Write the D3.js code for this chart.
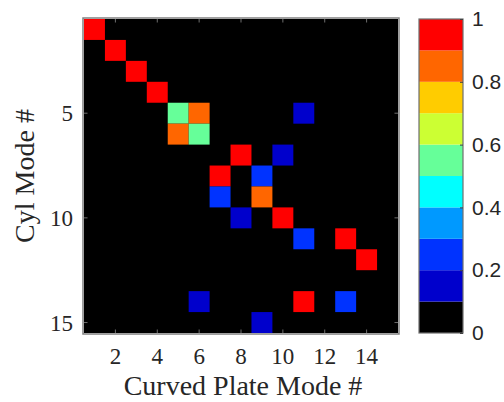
<!DOCTYPE html>
<html>
<head>
<meta charset="utf-8">
<script src="https://cdn.jsdelivr.net/npm/d3@7"></script>
<style>
  body { margin: 0; background: #fff; }
  svg text { fill: #262626; }
</style>
</head>
<body>
<div id="chart"></div>
<script>
// matrix size and the non-zero cells: [plate mode, cyl mode, value]
const nCols = 15, nRows = 15;
const cells = [
  [1, 1, 0.95], [2, 2, 0.95], [3, 3, 0.95], [4, 4, 0.95],
  [5, 5, 0.55], [6, 5, 0.85], [11, 5, 0.15],
  [5, 6, 0.85], [6, 6, 0.55],
  [8, 7, 0.95], [10, 7, 0.15],
  [7, 8, 0.95], [9, 8, 0.25],
  [7, 9, 0.25], [9, 9, 0.85],
  [8, 10, 0.15], [10, 10, 0.95],
  [11, 11, 0.25], [13, 11, 0.95],
  [14, 12, 0.95],
  [6, 14, 0.15], [11, 14, 0.95], [13, 14, 0.25],
  [9, 15, 0.15]
];
const xTicks = [2, 4, 6, 8, 10, 12, 14];
const yTicks = [5, 10, 15];
const cbTicks = [0, 0.2, 0.4, 0.6, 0.8, 1];
const levels = ['#000000', '#0000cc', '#0033ff', '#0099ff', '#00ffff',
                '#66ff99', '#ccff33', '#ffcc00', '#ff6600', '#ff0000'];

let width = 504, height = 402;
let pLeft = 84, pRight = 398, pTop = 19, pBottom = 333;

var svg = d3.select("#chart").append("svg")
  .attr("width", width).attr("height", height);

let x = d3.scaleLinear().domain([0.5, nCols + 0.5]).range([pLeft, pRight]);
let y = d3.scaleLinear().domain([0.5, nRows + 0.5]).range([pTop, pBottom]);
let color = d3.scaleQuantize().domain([0, 1]).range(levels);

// black background = value 0
svg.append("rect")
  .attr("x", pLeft).attr("y", pTop)
  .attr("width", pRight - pLeft).attr("height", pBottom - pTop)
  .attr("fill", color(0));

svg.selectAll("rect.cell")
  .data(cells)
  .enter().append("rect")
  .attr("class", "cell")
  .attr("x", d => x(d[0] - 0.5))
  .attr("y", d => y(d[1] - 0.5))
  .attr("width", x(1.5) - x(0.5))
  .attr("height", y(1.5) - y(0.5))
  .attr("fill", d => color(d[2]));

// box with inward ticks on all sides
const tickLen = 3.5;
let gx = svg.append("g");
xTicks.forEach(t => {
  gx.append("line").attr("x1", x(t)).attr("x2", x(t))
    .attr("y1", pBottom).attr("y2", pBottom - tickLen);
  gx.append("line").attr("x1", x(t)).attr("x2", x(t))
    .attr("y1", pTop).attr("y2", pTop + tickLen);
});
yTicks.forEach(t => {
  gx.append("line").attr("x1", pLeft).attr("x2", pLeft + tickLen)
    .attr("y1", y(t)).attr("y2", y(t));
  gx.append("line").attr("x1", pRight).attr("x2", pRight - tickLen)
    .attr("y1", y(t)).attr("y2", y(t));
});
gx.selectAll("line").attr("stroke", "#6e6e6e").attr("stroke-width", 1);

svg.append("rect")
  .attr("x", pLeft - 1).attr("y", pTop - 1)
  .attr("width", pRight - pLeft + 2).attr("height", pBottom - pTop + 2)
  .attr("fill", "none").attr("stroke", "#808080").attr("stroke-width", 1.5);

// tick labels
svg.selectAll("text.xt").data(xTicks).enter().append("text")
  .attr("x", d => x(d)).attr("y", 364)
  .attr("text-anchor", "middle")
  .style("font", "23px 'Liberation Serif', serif")
  .text(d => d);

svg.selectAll("text.yt").data(yTicks).enter().append("text")
  .attr("x", 73).attr("y", d => y(d) + 8)
  .attr("text-anchor", "end")
  .style("font", "23px 'Liberation Serif', serif")
  .text(d => d);

svg.append("text")
  .attr("x", (pLeft + pRight) / 2 + 2).attr("y", 395)
  .attr("text-anchor", "middle")
  .style("font", "28px 'Liberation Serif', serif")
  .text("Curved Plate Mode #");

svg.append("text")
  .attr("transform", "translate(34,176) rotate(-90)")
  .attr("text-anchor", "middle")
  .style("font", "28px 'Liberation Serif', serif")
  .text("Cyl Mode #");

// colorbar
let cbLeft = 419, cbRight = 463;
let cb = d3.scaleLinear().domain([0, 1]).range([pBottom, pTop]);
let step = 1 / levels.length;
svg.selectAll("rect.cb").data(levels).enter().append("rect")
  .attr("x", cbLeft)
  .attr("y", (d, i) => cb((i + 1) * step))
  .attr("width", cbRight - cbLeft)
  .attr("height", (d, i) => cb(i * step) - cb((i + 1) * step))
  .attr("fill", d => d);

svg.append("rect")
  .attr("x", cbLeft).attr("y", pTop)
  .attr("width", cbRight - cbLeft).attr("height", pBottom - pTop)
  .attr("fill", "none").attr("stroke", "#6e6e6e").attr("stroke-width", 1.2);

let cbAxis = svg.append("g")
  .attr("transform", "translate(" + cbRight + ",0)")
  .call(d3.axisRight(cb).tickValues(cbTicks).tickSizeInner(-3).tickSizeOuter(0)
        .tickPadding(9).tickFormat(d3.format("")));
cbAxis.select(".domain").remove();
cbAxis.selectAll("line").attr("stroke", "#404040");
cbAxis.selectAll("text")
  .attr("fill", "#404040")
  .style("font", "21px 'Liberation Sans', Arial, sans-serif");
</script>
</body>
</html>
